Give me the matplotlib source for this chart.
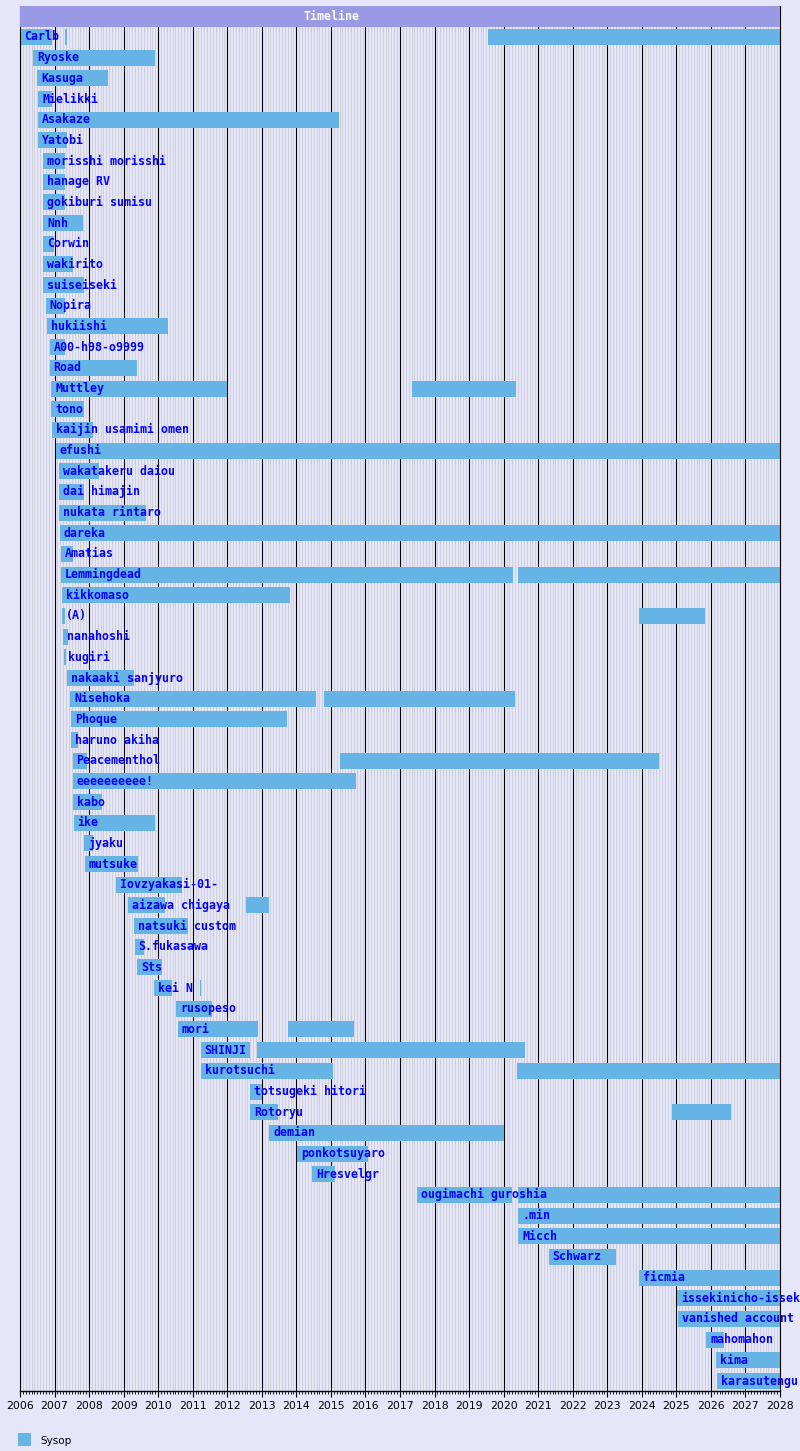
import matplotlib
matplotlib.use("Agg")
import matplotlib.pyplot as plt
from matplotlib.patches import Rectangle
from matplotlib.ticker import MultipleLocator

names = [
    "Carlb", "Ryoske", "Kasuga", "Mielikki", "Asakaze", "Yatobi",
    "morisshi morisshi", "hanage RV", "gokiburi sumisu", "Nnh", "Corwin",
    "wakirito", "suiseiseki", "Nopira", "hukiishi", "A00-h98-o9999", "Road",
    "Muttley", "tono", "kaijin usamimi omen", "efushi", "wakatakeru daiou",
    "dai himajin", "nukata rintaro", "dareka", "Amatias", "Lemmingdead",
    "kikkomaso", "(A)", "nanahoshi", "kugiri", "nakaaki sanjyuro", "Nisehoka",
    "Phoque", "haruno akiha", "Peacementhol", "eeeeeeeeee!", "kabo", "ike",
    "jyaku", "mutsuke", "Iovzyakasi-01-", "aizawa chigaya", "natsuki custom",
    "S.fukasawa", "Sts", "kei N", "rusopeso", "mori", "SHINJI", "kurotsuchi",
    "totsugeki hitori", "Rotoryu", "demian", "ponkotsuyaro", "Hresvelgr",
    "ougimachi guroshia", ".min", "Micch", "Schwarz", "ficmia",
    "issekinicho-issek", "vanished account", "mahomahon", "kima", "karasutengu",
]

# sysop terms in decimal years, one list per user
periods = [
    [(2006.0, 2006.93), (2007.30, 2007.36), (2019.55, 2028.0)],
    [(2006.37, 2009.90)],
    [(2006.49, 2008.54)],
    [(2006.53, 2006.92)],
    [(2006.53, 2015.24)],
    [(2006.53, 2007.37)],
    [(2006.68, 2007.31)],
    [(2006.68, 2007.31)],
    [(2006.68, 2007.31)],
    [(2006.68, 2007.83)],
    [(2006.68, 2006.97)],
    [(2006.68, 2007.52)],
    [(2006.68, 2007.85)],
    [(2006.74, 2007.31)],
    [(2006.77, 2010.27)],
    [(2006.86, 2007.31)],
    [(2006.86, 2009.38)],
    [(2006.90, 2012.00), (2017.35, 2020.37)],
    [(2006.90, 2007.85)],
    [(2006.94, 2008.10)],
    [(2007.03, 2028.0)],
    [(2007.12, 2008.30)],
    [(2007.12, 2007.85)],
    [(2007.12, 2009.65)],
    [(2007.15, 2028.0)],
    [(2007.18, 2007.52)],
    [(2007.18, 2020.28), (2020.41, 2028.0)],
    [(2007.21, 2013.83)],
    [(2007.21, 2007.30), (2023.92, 2025.84)],
    [(2007.24, 2007.39)],
    [(2007.28, 2007.33)],
    [(2007.37, 2009.29)],
    [(2007.46, 2014.58), (2014.79, 2020.34)],
    [(2007.49, 2013.72)],
    [(2007.49, 2007.67)],
    [(2007.52, 2007.95), (2015.27, 2024.51)],
    [(2007.52, 2015.72)],
    [(2007.52, 2008.36)],
    [(2007.55, 2009.90)],
    [(2007.85, 2008.10)],
    [(2007.88, 2009.43)],
    [(2008.79, 2010.68)],
    [(2009.12, 2010.21), (2012.53, 2013.22)],
    [(2009.29, 2010.87)],
    [(2009.32, 2009.60)],
    [(2009.38, 2010.12)],
    [(2009.87, 2010.41), (2011.20, 2011.23)],
    [(2010.53, 2011.57)],
    [(2010.56, 2012.88), (2013.77, 2015.66)],
    [(2011.23, 2012.67), (2012.85, 2020.63)],
    [(2011.23, 2015.05), (2020.40, 2028.0)],
    [(2012.67, 2013.01)],
    [(2012.67, 2013.46), (2024.88, 2026.57)],
    [(2013.22, 2020.00)],
    [(2014.03, 2016.08)],
    [(2014.46, 2015.11)],
    [(2017.50, 2020.25), (2020.42, 2028.0)],
    [(2020.42, 2028.0)],
    [(2020.42, 2028.0)],
    [(2021.30, 2023.26)],
    [(2023.92, 2028.0)],
    [(2025.03, 2028.0)],
    [(2025.06, 2028.0)],
    [(2025.87, 2026.39)],
    [(2026.15, 2028.0)],
    [(2026.18, 2028.0)],
]

year_start, year_end = 2006, 2028
legend_label = "Sysop"

bg = "#e6e6fa"
bar_color = "#66b3e6"
text_color = "#0000ff"
header_color = "#9999e6"

W, H = 800, 1451
row_px = 20.68
px_per_year = 760 / (year_end - year_start)

fig = plt.figure(figsize=(W / 100, H / 100), dpi=100, facecolor=bg)
ax = fig.add_axes([20 / W, (H - 1391) / H, 760 / W, 1385 / H])
ax.set_facecolor(bg)

n = len(names)
ax.set_xlim(year_start, year_end)
ax.set_ylim(n - 1 + (1391 - 1381) / row_px, -(37 - 6) / row_px)

# grid
ax.set_axisbelow(True)
ax.xaxis.set_major_locator(MultipleLocator(1))
ax.xaxis.set_minor_locator(MultipleLocator(1 / 12))
ax.grid(which="minor", axis="x", color="#cbcbd2", linewidth=0.6)
ax.grid(which="major", axis="x", color="black", linewidth=0.8)
ax.set_yticks([])

ax.spines["top"].set_visible(False)
for s in ["left", "right"]:
    ax.spines[s].set_linewidth(0.8)
ax.spines["bottom"].set_linewidth(1.0)

ax.tick_params(axis="x", which="major", direction="out", length=4, width=0.8,
               labelsize=7.8, pad=3)
ax.tick_params(axis="x", which="minor", direction="out", length=2.5, width=0.6)
ax.set_xticks(range(year_start, year_end + 1))
ax.set_xticklabels([str(y) for y in range(year_start, year_end + 1)])

# header
top = -(37 - 6) / row_px
ax.add_patch(Rectangle((year_start, top), year_end - year_start, 21 / row_px,
                       facecolor=header_color, edgecolor="none", zorder=3))
ax.text(2015.03, top + 10.5 / row_px, "Timeline", color="white",
        fontsize=8.4, fontweight="bold", family="DejaVu Sans Mono",
        ha="center", va="center", zorder=4)

# bars
bar_h = 16 / row_px
for i, segs in enumerate(periods):
    for a, b in segs:
        ax.barh(i, b - a, left=a, height=bar_h, color=bar_color,
                edgecolor="none", zorder=2)
    ax.text(segs[0][0] + 4 / px_per_year, i, names[i], color=text_color,
            fontsize=8.4, fontweight="bold", family="DejaVu Sans Mono",
            ha="left", va="center", zorder=5, clip_on=False)

# legend
fig.add_artist(Rectangle((18 / W, (H - 1446) / H), 13 / W, 13 / H,
                         transform=fig.transFigure, facecolor=bar_color,
                         edgecolor="none"))
fig.text(40 / W, (H - 1441) / H, legend_label, fontsize=7.5, color="black",
         ha="left", va="center")

fig.savefig("out.png", dpi=100, facecolor=bg)
